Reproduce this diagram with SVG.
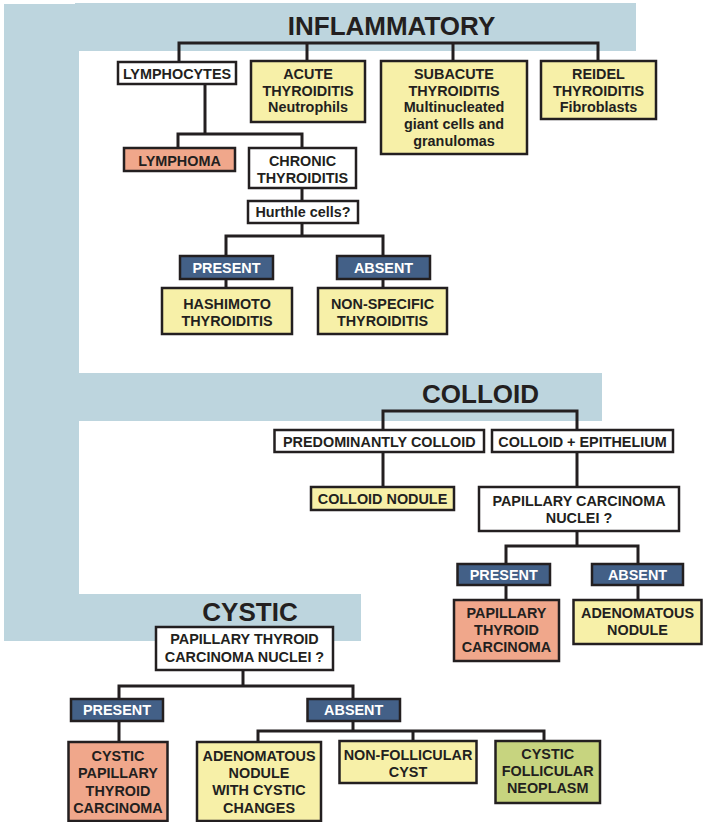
<svg xmlns="http://www.w3.org/2000/svg" width="703" height="822" viewBox="0 0 703 822">
<style>
.bg{fill:#bdd5de}
.box{stroke:#231f20;stroke-width:2.5}
.w{fill:#ffffff}
.y{fill:#f7f0a8}
.s{fill:#f0a78b}
.b{fill:#436087}
.g{fill:#c7d47f}
text{font-family:"Liberation Sans",Arial,Helvetica,sans-serif;font-weight:bold;font-size:14.4px;fill:#231f20;text-anchor:middle}
text.tw{fill:#ffffff}
text.title{font-size:26px}
.conn path{fill:none;stroke:#231f20;stroke-width:3;stroke-linejoin:miter}
</style>
<g id="background">
<rect class="bg" x="75" y="3" width="561" height="48"/>
<rect class="bg" x="4" y="4" width="75" height="637"/>
<rect class="bg" x="79" y="373" width="523" height="48"/>
<rect class="bg" x="4" y="594" width="357" height="47"/>
</g>
<g id="titles">
<text class="title" x="391.5" y="34.5">INFLAMMATORY</text>
<text class="title" x="480.5" y="403">COLLOID</text>
<text class="title" x="250" y="621">CYSTIC</text>
</g>
<g class="conn" id="connectors">
<path d="M179,62 V43 H598 V61"/>
<path d="M307,43 V61"/>
<path d="M453,43 V61"/>
<path d="M205,84 V134"/>
<path d="M178,148 V134 H302 V148"/>
<path d="M302,188 V201"/>
<path d="M302,223 V236"/>
<path d="M226,256 V236 H383 V256"/>
<path d="M226,279 V288"/>
<path d="M383,279 V288"/>
<path d="M383,430 V411 H577 V430"/>
<path d="M383,452 V487"/>
<path d="M577,452 V487"/>
<path d="M577,531 V546"/>
<path d="M506,564 V546 H638 V564"/>
<path d="M506,585 V600"/>
<path d="M638,585 V600"/>
<path d="M243,670 V686"/>
<path d="M119,699 V686 H353 V699"/>
<path d="M119,721 V742"/>
<path d="M353,721 V731"/>
<path d="M258,742 V731 H544 V741"/>
<path d="M413,731 V741"/>
</g>
<g id="lymphocytes"><rect class="box w" x="118" y="62" width="118" height="22"/><text x="177" y="79">LYMPHOCYTES</text></g>
<g id="acute"><rect class="box y" x="251" y="61" width="114" height="61"/><text x="308" y="79">ACUTE</text><text x="308" y="95.7">THYROIDITIS</text><text x="308" y="112.3">Neutrophils</text></g>
<g id="subacute"><rect class="box y" x="381" y="61" width="146" height="93"/><text x="454" y="79">SUBACUTE</text><text x="454" y="95.7">THYROIDITIS</text><text x="454" y="112.3">Multinucleated</text><text x="454" y="129">giant cells and</text><text x="454" y="145.7">granulomas</text></g>
<g id="reidel"><rect class="box y" x="541" y="61" width="115" height="58"/><text x="598.5" y="79">REIDEL</text><text x="598.5" y="95.7">THYROIDITIS</text><text x="598.5" y="112.3">Fibroblasts</text></g>
<g id="lymphoma"><rect class="box s" x="124" y="148" width="111" height="23"/><text x="179.5" y="166">LYMPHOMA</text></g>
<g id="chronic"><rect class="box w" x="249" y="148" width="107" height="40"/><text x="302.5" y="166">CHRONIC</text><text x="302.5" y="183">THYROIDITIS</text></g>
<g id="hurthle"><rect class="box w" x="248" y="201" width="110" height="22"/><text x="303" y="217">Hurthle cells?</text></g>
<g id="present1"><rect class="box b" x="180" y="256" width="93" height="23"/><text class="tw" x="226.5" y="272.5">PRESENT</text></g>
<g id="absent1"><rect class="box b" x="337" y="256" width="93" height="23"/><text class="tw" x="383.5" y="272.5">ABSENT</text></g>
<g id="hashimoto"><rect class="box y" x="162" y="288" width="130" height="46"/><text x="227" y="309">HASHIMOTO</text><text x="227" y="326">THYROIDITIS</text></g>
<g id="nonspecific"><rect class="box y" x="318" y="288" width="129" height="46"/><text x="382.5" y="309">NON-SPECIFIC</text><text x="382.5" y="326">THYROIDITIS</text></g>
<g id="predominantly"><rect class="box w" x="274.5" y="430" width="209.5" height="22"/><text x="379.3" y="446.5">PREDOMINANTLY COLLOID</text></g>
<g id="colloidepi"><rect class="box w" x="492" y="430" width="181" height="22"/><text x="582.5" y="446.5">COLLOID + EPITHELIUM</text></g>
<g id="colloidnodule"><rect class="box y" x="311" y="487" width="143" height="23"/><text x="382.5" y="503.5">COLLOID NODULE</text></g>
<g id="papnuclei"><rect class="box w" x="479" y="487" width="200" height="44"/><text x="579" y="506">PAPILLARY CARCINOMA</text><text x="579" y="523.3">NUCLEI ?</text></g>
<g id="present2"><rect class="box b" x="457.5" y="564" width="92.5" height="21"/><text class="tw" x="503.7" y="579.5">PRESENT</text></g>
<g id="absent2"><rect class="box b" x="592" y="564" width="91" height="21"/><text class="tw" x="637.5" y="579.5">ABSENT</text></g>
<g id="ptc"><rect class="box s" x="454" y="600" width="105" height="61"/><text x="506.5" y="617.7">PAPILLARY</text><text x="506.5" y="635">THYROID</text><text x="506.5" y="652.3">CARCINOMA</text></g>
<g id="adenomatous1"><rect class="box y" x="573.5" y="600" width="128" height="44"/><text x="637.5" y="617.7">ADENOMATOUS</text><text x="637.5" y="635">NODULE</text></g>
<g id="cysticq"><rect class="box w" x="156" y="627" width="177" height="43"/><text x="244.5" y="644.3">PAPILLARY THYROID</text><text x="244.5" y="661.7">CARCINOMA NUCLEI ?</text></g>
<g id="present3"><rect class="box b" x="71" y="699" width="92" height="22"/><text class="tw" x="117" y="715">PRESENT</text></g>
<g id="absent3"><rect class="box b" x="307.5" y="699" width="92.5" height="22"/><text class="tw" x="353.7" y="715">ABSENT</text></g>
<g id="cysticptc"><rect class="box s" x="68.5" y="742" width="99" height="79"/><text x="118" y="761">CYSTIC</text><text x="118" y="778.3">PAPILLARY</text><text x="118" y="795.7">THYROID</text><text x="118" y="812.7">CARCINOMA</text></g>
<g id="adenomatous2"><rect class="box y" x="197" y="742" width="124" height="79"/><text x="259" y="761">ADENOMATOUS</text><text x="259" y="777.5">NODULE</text><text x="259" y="795">WITH CYSTIC</text><text x="259" y="812.5">CHANGES</text></g>
<g id="nonfollicular"><rect class="box y" x="339.5" y="741" width="137" height="42"/><text x="408" y="760">NON-FOLLICULAR</text><text x="408" y="776.7">CYST</text></g>
<g id="follicular"><rect class="box g" x="495.5" y="741" width="104.5" height="62"/><text x="547.7" y="759">CYSTIC</text><text x="547.7" y="776">FOLLICULAR</text><text x="547.7" y="793.3">NEOPLASM</text></g>
</svg>
